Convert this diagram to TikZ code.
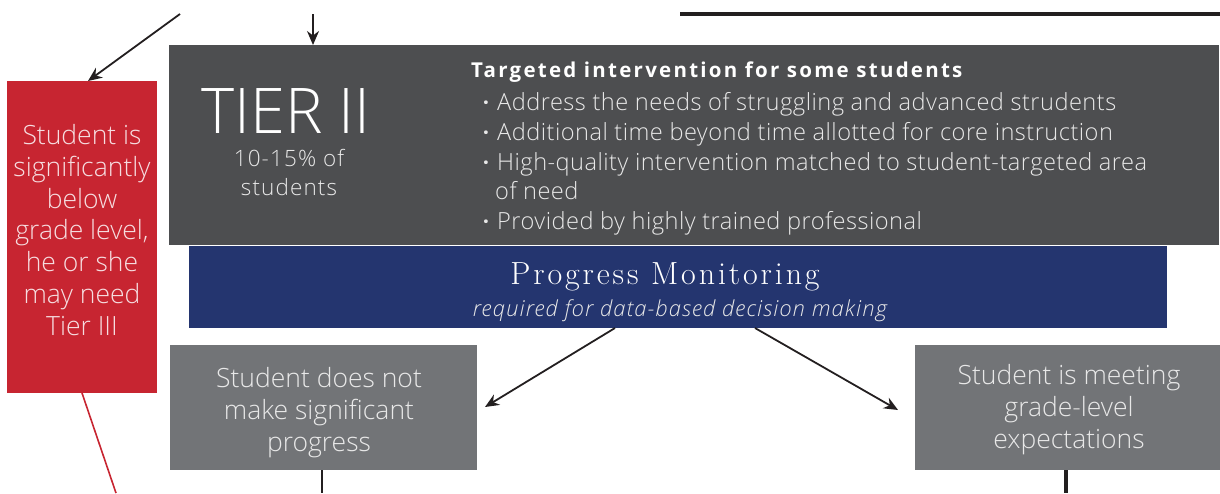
\documentclass[tikz,border=0pt]{standalone}
\usepackage{fontspec}
\setmainfont{Open Sans}
\newfontfamily\osl{Open Sans}[UprightFont=* Light, ItalicFont=* Light Italic]
\newfontfamily\oslsp{Open Sans}[UprightFont=* Light, ItalicFont=* Light Italic, LetterSpace=5]
\newfontfamily\oslbul{Open Sans}[UprightFont=* Light, LetterSpace=2]
\newfontfamily\osbsp{Open Sans}[UprightFont=* Bold, LetterSpace=11]
\newfontfamily\pmfont{Latin Modern Roman}[LetterSpace=9]
\usetikzlibrary{arrows.meta}
\definecolor{tiergray}{HTML}{4D4E50}
\definecolor{pmblue}{HTML}{24356F}
\definecolor{redc}{HTML}{C72531}
\definecolor{midgray}{HTML}{727477}
\definecolor{ink}{HTML}{231F20}
\definecolor{lighttext}{HTML}{E8E8E8}
\definecolor{pinktext}{HTML}{F6DDE0}
\begin{document}
\begin{tikzpicture}[x=1pt,y=-1pt,
  box/.style={draw=none, inner sep=0pt, outer sep=0pt, anchor=north west},
  arr/.style={draw=ink, line width=1.8pt, -{Stealth[length=14pt,width=12pt]}},
  plain/.style={draw=ink, line width=1.8pt},
  bul/.style={anchor=base west, inner sep=0pt, text=lighttext, font=\oslbul\fontsize{23.6}{28}\selectfont},
  dotn/.style={anchor=base, inner sep=0pt, text=lighttext, font=\bfseries\fontsize{22}{26}\selectfont},
  boxtxt/.style={align=center, text=lighttext, font=\osl\fontsize{26.5}{31.7}\selectfont}
]
\useasboundingbox (0,0) rectangle (1220,493);

% boxes
\node[box, fill=tiergray, minimum width=1050pt, minimum height=200pt] (tier) at (169,45) {};
\node[box, fill=pmblue, minimum width=978pt, minimum height=82pt] (pm) at (189,246) {};
\node[box, fill=redc, minimum width=150pt, minimum height=312pt] (red) at (7,81) {};
\node[box, fill=midgray, minimum width=307pt, minimum height=125pt] (nosig) at (170,345) {};
\node[box, fill=midgray, minimum width=305pt, minimum height=125pt] (meet) at (915,345) {};

% red box text
\node[boxtxt, text=pinktext] (redtxt) at (82,230) {Student is\\significantly\\below\\grade level,\\he or she\\may need\\Tier III};

% gray box texts
\node[boxtxt] (nosigtxt) at (319,412.5) {Student does not\\make significant\\progress};
\node[boxtxt] (meettxt) at (1069,409.5) {Student is meeting\\grade-level\\expectations};

% tier II texts
\node[text=white, font=\osl\fontsize{63}{63}\selectfont, inner sep=0pt, anchor=base] (tiername) at (286,133) {TIER II};
\node[align=center, text=lighttext, font=\oslsp\fontsize{22.5}{29}\selectfont, inner sep=0pt] (pct) at (289,172) {10-15\% of\\students};

\node[anchor=base west, inner sep=0pt, text=white, font=\osbsp\fontsize{20.5}{24}\selectfont] (head) at (471,77) {Targeted intervention for some students};

\node[dotn] (d1) at (486,110) {\textperiodcentered};
\node[bul] (b1) at (497,110) {Address the needs of struggling and advanced strudents};
\node[dotn] (d2) at (486,140) {\textperiodcentered};
\node[bul] (b2) at (497,140) {Additional time beyond time allotted for core instruction};
\node[dotn] (d3) at (486,170) {\textperiodcentered};
\node[bul] (b3) at (497,170) {High-quality intervention matched to student-targeted area};
\node[bul] (b3b) at (495,199.5) {of need};
\node[dotn] (d4) at (486,229.5) {\textperiodcentered};
\node[bul] (b4) at (497,229.5) {Provided by highly trained professional};

% progress monitoring
\node[text=white, font=\pmfont\fontsize{32}{32}\selectfont, inner sep=0pt, anchor=base] (pmtitle) at (665,284) {Progress Monitoring};
\node[text=lighttext, font=\oslsp\itshape\fontsize{22}{26}\selectfont, inner sep=0pt, anchor=base] (pmsub) at (680,316) {required for data-based decision making};

% connectors
\coordinate (c1) at (180,14);
\coordinate (c2) at (313,14);
\coordinate (l1) at (680,14);
\coordinate (l2) at (1220,14);
\coordinate (e1) at (485,407);
\coordinate (e2) at (898,410);
\coordinate (rb) at (116,493);
\coordinate (b1end) at (322,493);
\coordinate (b2end) at (1066,493);

\draw[arr] (c1) -- ([xshift=6pt]red.north);
\draw[arr] (c2) -- (tier.north -| c2);
\draw[draw=ink, line width=4pt] (l1) -- (l2);
\draw[arr] ([xshift=-63pt]pm.south) -- (e1);
\draw[arr] ([xshift=77pt]pm.south) -- (e2);
\draw[draw=redc, line width=1.6pt] (red.south) -- (rb);
\draw[plain] (nosig.south -| b1end) -- (b1end);
\draw[draw=ink, line width=3.5pt] (meet.south -| b2end) -- (b2end);
\end{tikzpicture}
\end{document}
